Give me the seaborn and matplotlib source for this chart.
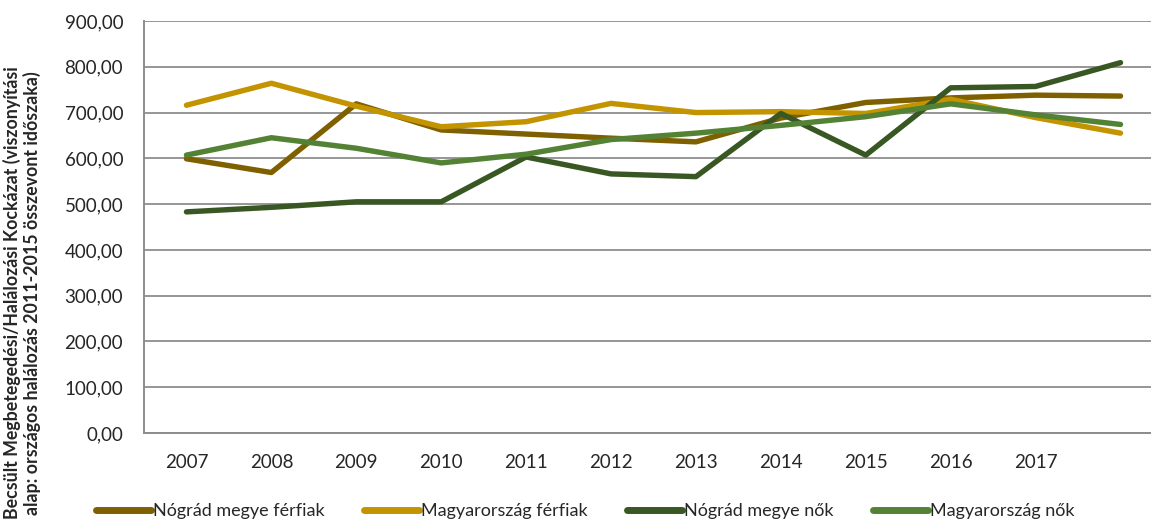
import matplotlib
matplotlib.use("Agg")
from matplotlib import pyplot as plt
import pandas as pd
import seaborn as sns

years = ["2007", "2008", "2009", "2010", "2011", "2012", "2013", "2014", "2015", "2016", "2017", "2018"]
year_labels = ["2007", "2008", "2009", "2010", "2011", "2012", "2013", "2014", "2015", "2016", "2017", ""]

nograd_ferfi = [599, 569, 719, 662, 653, 644, 636, 688, 722, 732, 738, 736]
magyar_ferfi = [716, 764, 714, 669, 680, 720, 700, 702, 698, 729, 689, 655]
nograd_no = [483, 493, 505, 505, 603, 566, 560, 698, 607, 754, 757, 809]
magyar_no = [607, 645, 622, 590, 609, 641, 655, 672, 691, 719, 695, 674]

series_names = ["Nógrád megye férfiak", "Magyarország férfiak", "Nógrád megye nők", "Magyarország nők"]
colors = ["#7F6000", "#C39400", "#385723", "#548235"]

y_ticks = [0, 100, 200, 300, 400, 500, 600, 700, 800, 900]
y_labels = ["0,00", "100,00", "200,00", "300,00", "400,00", "500,00", "600,00", "700,00", "800,00", "900,00"]

rows = []
for name, vals in zip(series_names, [nograd_ferfi, magyar_ferfi, nograd_no, magyar_no]):
    for i, (yr, v) in enumerate(zip(years, vals)):
        rows.append({"pos": i, "year": yr, "value": v, "series": name})
df = pd.DataFrame(rows)

sns.set_style("white")
plt.rcParams["font.family"] = ["Lato", "DejaVu Sans"]

fig = plt.figure(figsize=(11.51, 5.29), dpi=100)
ax = fig.add_axes([0.1251, 0.1815, 0.8853, 0.7788])

sns.lineplot(data=df, x="pos", y="value", hue="series", palette=colors,
             hue_order=series_names, linewidth=3.9, ax=ax, legend=True,
             solid_capstyle="round", solid_joinstyle="round")

ax.set_xlim(-0.5, len(years) - 0.5)
ax.set_ylim(0, 900)

ax.set_yticks(y_ticks)
ax.set_yticklabels(y_labels, fontsize=13.5)
ax.tick_params(axis="y", length=0, pad=15)
ax.yaxis.grid(True, color="#969696", linewidth=1.4)
ax.set_axisbelow(True)

ax.set_xticks([i - 0.5 for i in range(len(years) + 1)])
ax.set_xticklabels([])
ax.set_xticks(list(range(len(years))), minor=True)
ax.set_xticklabels(year_labels, minor=True, fontsize=13.5)
ax.tick_params(axis="x", which="major", direction="inout", length=11, width=1.3, color="#8c8c8c")
ax.tick_params(axis="x", which="minor", length=0, pad=15)

for side in ["top", "right"]:
    ax.spines[side].set_visible(False)
for side in ["left", "bottom"]:
    ax.spines[side].set_color("#8c8c8c")
    ax.spines[side].set_linewidth(1.4)

ax.set_xlabel("")
ax.set_ylabel("Becsült Megbetegedési/Halálozási Kockázat (viszonyítási\nalap: országos halálozás 2011-2015 összevont időszaka)",
              fontsize=12.8, fontweight="bold", linespacing=1.15)
ax.yaxis.set_label_coords(-0.101, 0.34)

handles, labels = ax.get_legend_handles_labels()
for h in handles:
    h.set_linewidth(5)
ax.legend(handles, labels, loc="center", bbox_to_anchor=(0.433, -0.19),
          ncol=4, frameon=False, fontsize=13, handlelength=3.05,
          handletextpad=0.1, columnspacing=2.2)

fig.savefig("out.png", dpi=100)
